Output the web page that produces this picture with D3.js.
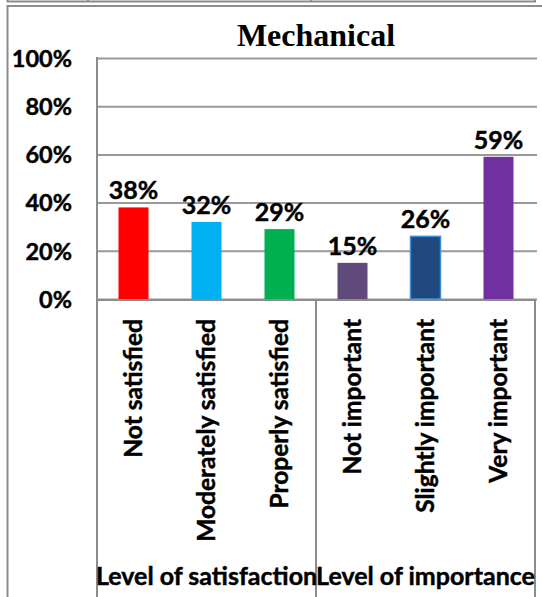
<!DOCTYPE html>
<html>
<head>
<meta charset="utf-8">
<script src="https://cdn.jsdelivr.net/npm/d3@7"></script>
<style>
  html, body { margin: 0; padding: 0; background: #fff; }
  svg { display: block; }
  .lbl { font-family: Lato, "Open Sans", sans-serif; font-weight: bold; fill: #000;
         stroke: #000; stroke-width: 0.45px; paint-order: stroke; }
</style>
</head>
<body>
<svg id="chart" width="542" height="597"></svg>
<script>
// ---- data ----
const title = "Mechanical";
const groups = ["Level of satisfaction", "Level of importance"];
const categories = ["Not satisfied", "Moderately satisfied", "Properly satisfied",
                    "Not important", "Slightly important", "Very important"];
const categoryGroup = [0, 0, 0, 1, 1, 1];
const values = [0.38, 0.32, 0.29, 0.15, 0.26, 0.59];
const yTicks = [0, 0.2, 0.4, 0.6, 0.8, 1.0];
const palette = ["#FF0000", "#00B0F0", "#00B050", "#604A7B", "#1F497D", "#7030A0"];

// ---- layout ----
const W = 542, H = 597;
const plot = { left: 97, right: 535, top: 58, bottom: 299 };
const gridColor = "#999999";
const lineColor = "#8c8c8c";
const fs = 25;

const svg = d3.select("#chart");

// frame lines from the surrounding document
svg.append("line").attr("x1", 7).attr("x2", 536).attr("y1", 1.5).attr("y2", 1.5)
  .attr("stroke", lineColor).attr("stroke-width", 2);
[7.5, 88, 311, 535].forEach(x => svg.append("line")
  .attr("x1", x).attr("x2", x).attr("y1", 0).attr("y2", 2)
  .attr("stroke", lineColor).attr("stroke-width", 2));
svg.append("line").attr("x1", 7).attr("x2", W).attr("y1", 6).attr("y2", 6)
  .attr("stroke", lineColor).attr("stroke-width", 2);
svg.append("line").attr("x1", 7.5).attr("x2", 7.5).attr("y1", 5).attr("y2", H)
  .attr("stroke", lineColor).attr("stroke-width", 2);

// scales
const x = d3.scaleBand().domain(categories).range([plot.left, plot.right])
  .paddingInner(43 / 73).paddingOuter(43 / 146);
const y = d3.scaleLinear().domain([0, 1]).range([plot.bottom, plot.top]);

// y axis with gridlines
const yAxis = d3.axisLeft(y).tickValues(yTicks).tickFormat(d3.format(".0%"))
  .tickSize(-(plot.right + 2 - plot.left)).tickPadding(25);
const gy = svg.append("g").attr("transform", `translate(${plot.left},0)`).call(yAxis);
gy.select(".domain").remove();
gy.selectAll(".tick line").attr("stroke", gridColor).attr("stroke-width", 2);
gy.selectAll(".tick text").attr("class", "lbl").style("font-size", "23.5px")
  .attr("dy", "0.35em");

// value axis line
svg.append("line").attr("x1", plot.left).attr("x2", plot.left)
  .attr("y1", plot.top - 1).attr("y2", H).attr("stroke", lineColor).attr("stroke-width", 2);

// title
svg.append("text").attr("x", (plot.left + plot.right) / 2).attr("y", 46)
  .attr("text-anchor", "middle")
  .style("font-family", '"Liberation Serif", "Times New Roman", serif')
  .style("font-weight", "bold").style("font-size", "32px").text(title);

// bars
svg.append("g").selectAll("rect").data(categories).join("rect")
  .attr("x", d => x(d)).attr("width", x.bandwidth())
  .attr("y", (d, i) => y(values[i])).attr("height", (d, i) => y(0) - y(values[i]))
  .attr("fill", (d, i) => palette[i])
  .attr("stroke", (d, i) => i === 4 ? "#3C8FD8" : "none")
  .attr("stroke-width", 1.5);

// value labels
svg.append("g").selectAll("text").data(categories).join("text")
  .attr("class", "lbl").style("font-size", fs + "px")
  .attr("text-anchor", "middle")
  .attr("x", d => x(d) + x.bandwidth() / 2)
  .attr("y", (d, i) => y(values[i]) - 8)
  .text((d, i) => d3.format(".0%")(values[i]));

// category axis
const xAxis = d3.axisBottom(x).tickSize(0).tickPadding(0);
const gx = svg.append("g").attr("transform", `translate(0,${plot.bottom})`).call(xAxis);
gx.select(".domain").remove();
gx.selectAll(".tick text").attr("class", "lbl").style("font-size", "24.5px")
  .attr("text-anchor", "end")
  .attr("transform", "rotate(-90)")
  .attr("x", -20).attr("y", 0).attr("dy", "0.35em");

svg.append("line").attr("x1", plot.left).attr("x2", plot.right)
  .attr("y1", plot.bottom + 1).attr("y2", plot.bottom + 1)
  .attr("stroke", lineColor).attr("stroke-width", 2);

// group dividers and labels
const groupInfo = groups.map((g, gi) => {
  const cats = categories.filter((c, i) => categoryGroup[i] === gi);
  const x0 = x(cats[0]) - (x.step() - x.bandwidth()) / 2;
  const x1 = x(cats[cats.length - 1]) + x.bandwidth() + (x.step() - x.bandwidth()) / 2;
  return { name: g, x0, x1 };
});
groupInfo.forEach(g => {
  svg.append("line").attr("x1", g.x1).attr("x2", g.x1).attr("y1", plot.bottom).attr("y2", H)
    .attr("stroke", lineColor).attr("stroke-width", 2);
});
svg.append("g").selectAll("text").data(groupInfo).join("text")
  .attr("class", "lbl").style("font-size", fs + "px")
  .attr("text-anchor", "middle")
  .attr("x", d => (d.x0 + d.x1) / 2).attr("y", 585)
  .text(d => d.name);
</script>
</body>
</html>
